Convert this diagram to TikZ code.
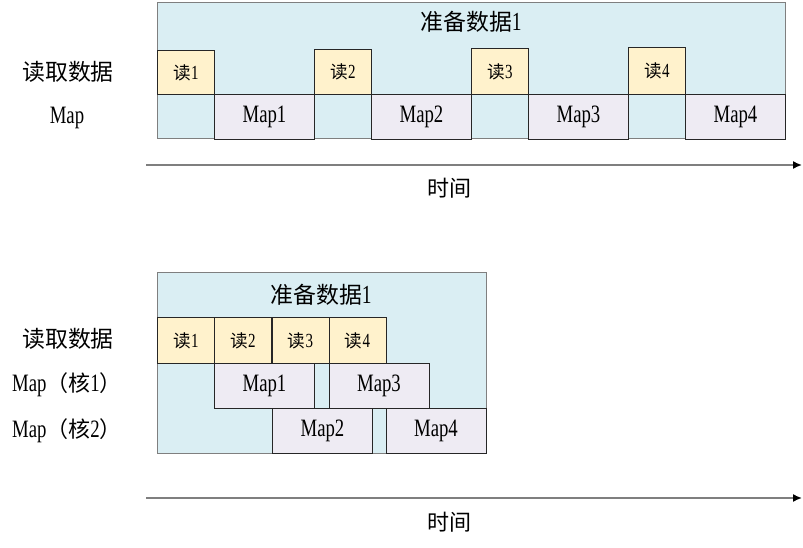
\documentclass[tikz,border=0pt]{standalone}
\usepackage{fontspec}
\usetikzlibrary{arrows.meta}
\setmainfont{Liberation Serif}[FakeStretch=0.75]
\newfontfamily\cjk[Scale=0.88]{Noto Sans CJK SC}
\definecolor{bgblue}{HTML}{DAEEF3}
\definecolor{rdyel}{HTML}{FFF2CC}
\definecolor{maplav}{HTML}{EEEBF3}
\definecolor{edgegray}{HTML}{7F7F7F}
\definecolor{boxedge}{HTML}{262626}
\begin{document}
\begin{tikzpicture}[x=1pt,y=-1pt,
  bgbox/.style={draw=edgegray,line width=1.3pt,fill=bgblue,inner sep=0pt,anchor=north west},
  rdbox/.style={draw=boxedge,line width=0.9pt,fill=rdyel,inner sep=0pt,anchor=north west,minimum width=57pt,font=\fontsize{20}{20}\selectfont},
  mapbox/.style={draw=boxedge,line width=0.9pt,fill=maplav,inner sep=0pt,anchor=north west,minimum width=100pt,minimum height=45pt,font=\fontsize{25}{25}\selectfont},
  lbl/.style={inner sep=0pt,font=\fontsize{25}{25}\selectfont},
  timeax/.style={draw=edgegray,line width=1.6pt,-{Latex[length=9pt,width=8pt,black]}}
]
\useasboundingbox[fill=white] (0,0) rectangle (803,548);

% ---------- top diagram ----------
\node[bgbox,minimum width=628pt,minimum height=136pt] (bgA) at (157,2) {};
\node[lbl,font=\fontsize{26}{26}\selectfont] (titleA) at (471,22) {{\cjk 准备数据}1};
\node[rdbox,minimum height=44pt] (rA1) at (157,50) {{\cjk 读}1};
\node[rdbox,minimum height=45pt] (rA2) at (314,49) {{\cjk 读}2};
\node[rdbox,minimum height=46pt] (rA3) at (471,48) {{\cjk 读}3};
\node[rdbox,minimum height=47pt] (rA4) at (628,47) {{\cjk 读}4};
\node[mapbox] (mA1) at (214,94) {Map1};
\node[mapbox] (mA2) at (371,94) {Map2};
\node[mapbox] (mA3) at (528,94) {Map3};
\node[mapbox] (mA4) at (685,94) {Map4};
\node[lbl,font=\fontsize{26}{26}\selectfont] (lA1) at (68,72) {\cjk 读取数据};
\node[lbl] (lA2) at (67,118) {Map};
\coordinate (aAs) at (146,165);
\coordinate (aAe) at (802,165);
\draw[timeax] (aAs) -- (aAe);
\node[lbl] (tA) at (449,188) {\cjk 时间};

% ---------- bottom diagram ----------
\node[bgbox,minimum width=329pt,minimum height=181pt] (bgB) at (157,272) {};
\node[lbl,font=\fontsize{26}{26}\selectfont] (titleB) at (321,295) {{\cjk 准备数据}1};
\node[rdbox,minimum height=46pt] (rB1) at (157,317) {{\cjk 读}1};
\node[rdbox,minimum height=46pt] (rB2) at (214,317) {{\cjk 读}2};
\node[rdbox,minimum height=46pt] (rB3) at (271.5,317) {{\cjk 读}3};
\node[rdbox,minimum height=46pt] (rB4) at (328.5,317) {{\cjk 读}4};
\node[mapbox] (mB1) at (214,363) {Map1};
\node[mapbox] (mB3) at (328.5,363) {Map3};
\node[mapbox] (mB2) at (272,408) {Map2};
\node[mapbox] (mB4) at (385.5,408) {Map4};
\node[lbl,font=\fontsize{26}{26}\selectfont] (lB1) at (68,339) {\cjk 读取数据};
\node[lbl] (lB2) at (67,385) {Map{\cjk （核}1{\cjk ）}};
\node[lbl] (lB3) at (67,431) {Map{\cjk （核}2{\cjk ）}};
\coordinate (aBs) at (146,498);
\coordinate (aBe) at (802,498);
\draw[timeax] (aBs) -- (aBe);
\node[lbl] (tB) at (449,522) {\cjk 时间};
\end{tikzpicture}
\end{document}
